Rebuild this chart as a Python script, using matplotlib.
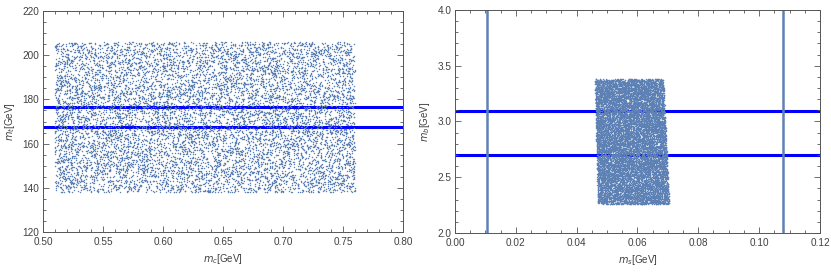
import numpy as np
import matplotlib.pyplot as plt
from matplotlib.ticker import MultipleLocator

# ---------------- data ----------------
# left panel: scan region of (m_c, m_t) and the two m_t bands
mc_range = [0.510, 0.760]
mt_range = [138.0, 206.0]
n_left = 10000
mt_lines = [176.5, 167.5]

# right panel: scan region of (m_s, m_b) (slightly sheared block)
ms_left_edge = [0.0470, 0.0460]   # at bottom, top
ms_right_edge = [0.0705, 0.0685]  # at bottom, top
mb_range = [2.26, 3.38]
n_right = 13000
mb_lines = [3.09, 2.70]
ms_lines = [0.0105, 0.1080]

# the individual scan points can not be read, fill the read region uniformly
rng = np.random.default_rng(3)
mc = rng.uniform(mc_range[0], mc_range[1], n_left)
mt = rng.uniform(mt_range[0], mt_range[1], n_left)
mb = rng.uniform(mb_range[0], mb_range[1], n_right)
f = (mb - mb_range[0]) / (mb_range[1] - mb_range[0])
lo = ms_left_edge[0] + f * (ms_left_edge[1] - ms_left_edge[0])
hi = ms_right_edge[0] + f * (ms_right_edge[1] - ms_right_edge[0])
ms = lo + rng.uniform(0, 1, n_right) * (hi - lo)

pt_col = '#5E81B5'
line_col = '#0000FF'
txt_col = '#404040'
frame_col = '#555555'

plt.rcParams['font.family'] = ['Liberation Sans', 'DejaVu Sans']

fig = plt.figure(figsize=(8.31, 2.72), dpi=100)
ax1 = fig.add_axes([0.0517, 0.147, 0.4332, 0.8125])
ax2 = fig.add_axes([0.5475, 0.1434, 0.4392, 0.820])


def style(ax, xmaj, xmin, ymaj, ymin):
	ax.xaxis.set_major_locator(MultipleLocator(xmaj))
	ax.xaxis.set_minor_locator(MultipleLocator(xmin))
	ax.yaxis.set_major_locator(MultipleLocator(ymaj))
	ax.yaxis.set_minor_locator(MultipleLocator(ymin))
	ax.tick_params(which='both', direction='in', top=True, right=True,
		colors=frame_col, labelcolor=txt_col, labelsize=7.2, width=0.6)
	ax.tick_params(which='major', length=4)
	ax.tick_params(which='minor', length=2.2)
	ax.tick_params(axis='x', which='major', pad=3.5)
	ax.tick_params(axis='y', which='major', pad=2.5)
	for s in ax.spines.values():
		s.set_color(frame_col)
		s.set_linewidth(0.7)


# ---------------- left ----------------
for y in mt_lines:
	ax1.axhline(y, color=line_col, lw=2.2, zorder=1)
ax1.scatter(mc, mt, s=1.1, c=pt_col, linewidths=0, zorder=2)
ax1.set_xlim(0.50, 0.80)
ax1.set_ylim(120, 220)
style(ax1, 0.05, 0.01, 20, 5)
ax1.xaxis.set_major_formatter(lambda v, p: '{:.2f}'.format(v))
ax1.set_xlabel('$m_c$[GeV]', fontsize=7, color=txt_col, labelpad=4)
ax1.set_ylabel('$m_t$[GeV]', fontsize=7, color=txt_col, labelpad=4)

# ---------------- right ----------------
for y in mb_lines:
	ax2.axhline(y, color=line_col, lw=2.2, zorder=1)
for x in ms_lines:
	ax2.axvline(x, color=pt_col, lw=1.8, zorder=1)
ax2.scatter(ms, mb, s=1.1, c=pt_col, linewidths=0, zorder=2)
ax2.set_xlim(0.0, 0.12)
ax2.set_ylim(2.0, 4.0)
style(ax2, 0.02, 0.005, 0.5, 0.1)
ax2.xaxis.set_major_formatter(lambda v, p: '{:.2f}'.format(v))
ax2.yaxis.set_major_formatter(lambda v, p: '{:.1f}'.format(v))
ax2.set_xlabel('$m_s$[GeV]', fontsize=7, color=txt_col, labelpad=4)
ax2.set_ylabel('$m_b$[GeV]', fontsize=7, color=txt_col, labelpad=4)

plt.savefig('out.png', dpi=100)
